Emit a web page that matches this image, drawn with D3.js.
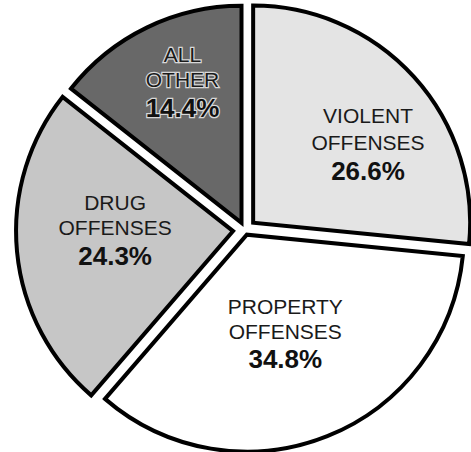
<!DOCTYPE html>
<html>
<head>
<meta charset="utf-8">
<script src="https://cdn.jsdelivr.net/npm/d3@7"></script>
<style>
  body { margin: 0; background: #fff; }
  text { font-family: "Liberation Sans", Arial, Helvetica, sans-serif; }
</style>
</head>
<body>
<div id="chart"></div>
<script>
// data
const categories = ["VIOLENT OFFENSES", "PROPERTY OFFENSES", "DRUG OFFENSES", "ALL OTHER"];
const shares = [26.6, 34.8, 24.3, 14.4];
const firstLine = ["VIOLENT", "PROPERTY", "DRUG", "ALL"];
const secondLine = ["OFFENSES", "OFFENSES", "OFFENSES", "OTHER"];

const width = 471, height = 452;
const cx = 245, cy = 230, radius = 217;

// look of each slice (halftone tones, explode distance, label placement)
const fills = ["#e4e4e4", "#ffffff", "#c6c6c6", "#686868"];
const explode = [11, 5, 12, 8];
const labelR = [136, 111, 118, 148];
const labelTurn = [9.8, 1.5, 3.7, 2.4];

const svg = d3.select("#chart").append("svg")
  .attr("width", width)
  .attr("height", height);

const pie = d3.pie().sort(null).value(d => d.value);
const arc = d3.arc().innerRadius(0).outerRadius(radius);

const rows = categories.map((c, i) => ({ name: c, value: shares[i], i: i }));
const arcs = pie(rows);
const fmt = d3.format(".1f");

const slice = svg.selectAll("g.slice")
  .data(arcs)
  .join("g")
  .attr("class", "slice")
  .attr("transform", d => {
    const mid = (d.startAngle + d.endAngle) / 2;
    const e = explode[d.data.i];
    return `translate(${cx + Math.sin(mid) * e},${cy - Math.cos(mid) * e})`;
  });

slice.append("path")
  .attr("d", arc)
  .attr("fill", d => fills[d.data.i])
  .attr("stroke", "#000")
  .attr("stroke-width", 4)
  .attr("stroke-linejoin", "miter");

// labels
const label = slice.append("g")
  .attr("transform", d => {
    const a = (d.startAngle + d.endAngle) / 2 + labelTurn[d.data.i] * Math.PI / 180;
    const r = labelR[d.data.i];
    return `translate(${Math.sin(a) * r},${-Math.cos(a) * r})`;
  });

const dark = d => d.data.i === 3;

label.append("text")
  .attr("text-anchor", "middle")
  .attr("y", d => d.data.i === 0 ? -27 : -25)
  .attr("font-size", 21)
  .attr("fill", "#1a1a1a")
  .attr("stroke", d => dark(d) ? "#d8d8d8" : "none")
  .attr("stroke-width", 2.5)
  .attr("paint-order", "stroke")
  .text(d => firstLine[d.data.i]);

label.append("text")
  .attr("text-anchor", "middle")
  .attr("y", 0)
  .attr("font-size", 21)
  .attr("fill", "#1a1a1a")
  .attr("stroke", d => dark(d) ? "#d8d8d8" : "none")
  .attr("stroke-width", 2.5)
  .attr("paint-order", "stroke")
  .text(d => secondLine[d.data.i]);

label.append("text")
  .attr("text-anchor", "middle")
  .attr("y", d => d.data.i === 1 ? 29 : 30)
  .attr("font-size", 26)
  .attr("font-weight", "bold")
  .attr("fill", "#111")
  .attr("stroke", d => dark(d) ? "#d8d8d8" : "none")
  .attr("stroke-width", 2.5)
  .attr("paint-order", "stroke")
  .text(d => fmt(d.data.value) + "%");
</script>
</body>
</html>
